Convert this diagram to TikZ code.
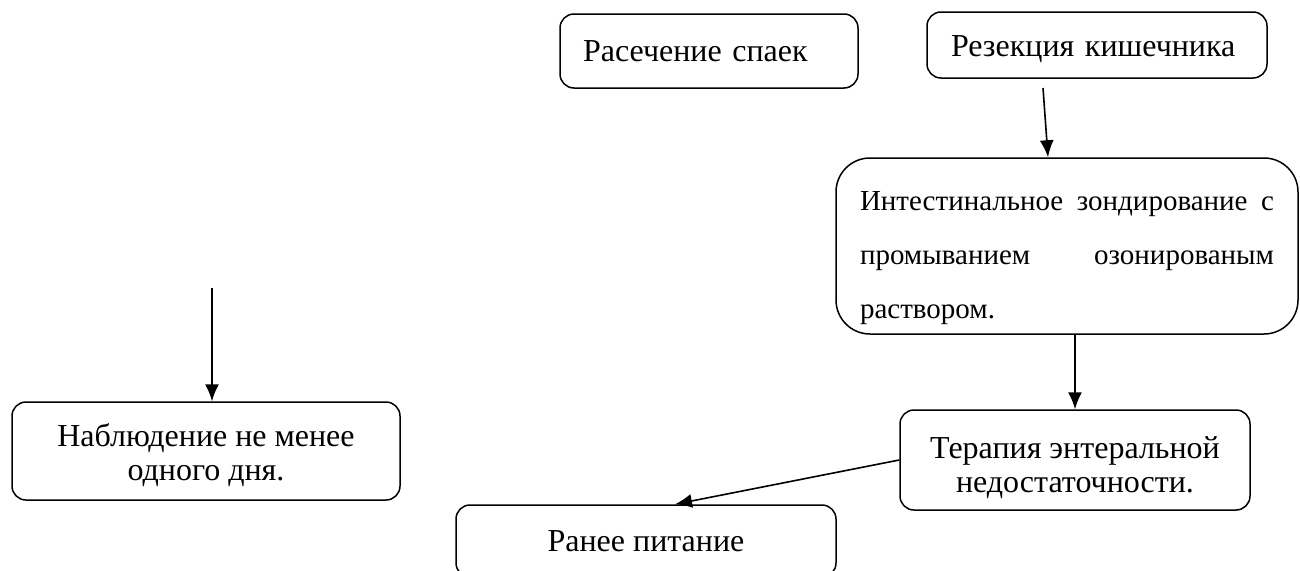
\documentclass[tikz,border=0pt]{standalone}
\usepackage{fontspec}
\setmainfont{Liberation Serif}
\usetikzlibrary{
    arrows.meta,
    positioning
}

\begin{document}
\begin{tikzpicture}[
    x=1pt, y=-1pt,
    font=\fontsize{32}{34}\selectfont,
    box/.style={
        draw,
        line width=1.5pt,
        rounded corners=14pt,
        align=center,
        inner sep=0pt
    },
    arrow/.style={-{Latex[length=17pt,width=14pt]},line width=1.6pt}
]
\useasboundingbox (0,0) rectangle (1300,570);

\node[box, minimum width=298pt, minimum height=74pt,
    text width=252pt, align=left] (spaek) at (709,51)
{Расечение спаек};

\node[box, minimum width=340pt, minimum height=66pt,
    text width=292pt, align=left] (rezek) at (1097,45)
{\rule{0pt}{30pt}Резекция кишечника};

\node[box, rounded corners=34pt, minimum width=462pt, minimum height=176pt,
    text width=414pt, align=justify, font=\fontsize{29}{54}\selectfont] (zond) at (1067,246)
{\rule{0pt}{44pt}Интестинальное зондирование с\linebreak промыванием озонированым\linebreak раствором.};

\node[box, minimum width=350pt, minimum height=100pt] (terap) at (1075,460)
{\rule{0pt}{38pt}Терапия энтеральной\\недостаточности.};

\node[box, minimum width=380pt, minimum height=72pt] (pitan) at (646,541)
{Ранее питание};

\node[box, minimum width=388pt, minimum height=98pt] (nabl) at (206,451)
{\rule{0pt}{32pt}Наблюдение не менее\\одного дня.};

\coordinate (r1) at (1043,88);
\coordinate (n1) at (212,288);

\draw[arrow] (r1) -- ([xshift=-19pt]zond.north);
\draw[arrow] (terap.north |- zond.south) -- (terap.north);
\draw[arrow] (terap.west) -- ([xshift=29pt]pitan.north);
\draw[arrow] (n1) -- (n1 |- nabl.north);

\end{tikzpicture}
\end{document}
